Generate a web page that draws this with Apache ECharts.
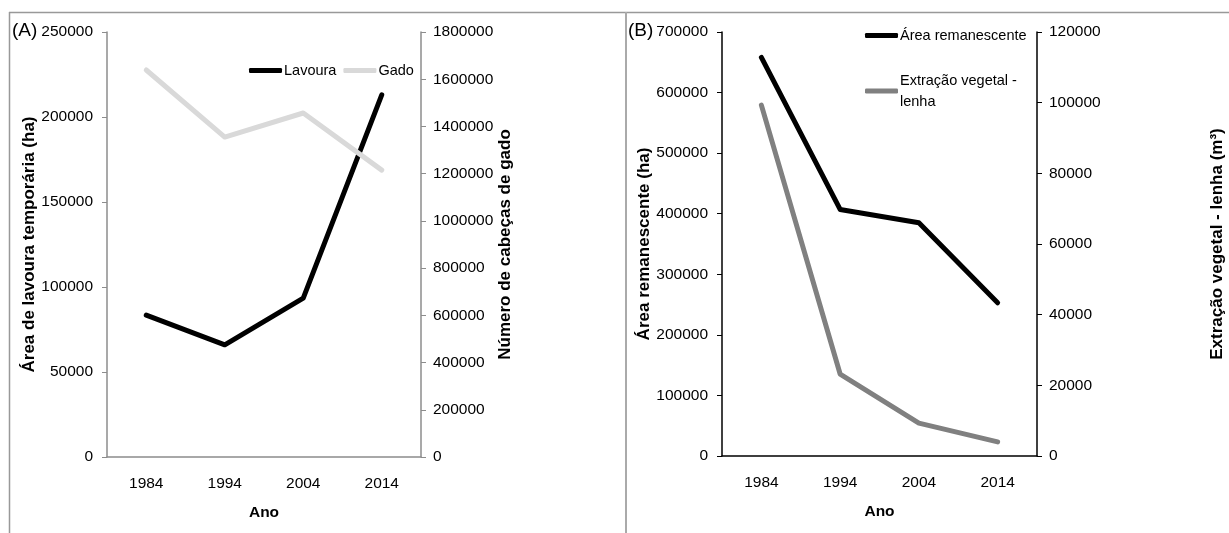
<!DOCTYPE html>
<html>
<head>
<meta charset="utf-8">
<script src="https://cdn.jsdelivr.net/npm/echarts@6/dist/echarts.min.js"></script>
<style>
  html, body { margin: 0; padding: 0; background: #fff; }
  #chart { width: 1229px; height: 533px; }
</style>
</head>
<body>
<div id="chart"></div>
<script>
const anos = ['1984', '1994', '2004', '2014'];
const lavoura = [83500, 66000, 93500, 213000];
const gado = [1639000, 1355000, 1457000, 1215000];
const areaRemanescente = [658000, 407000, 385000, 253000];
const extracaoLenha = [99300, 23200, 9300, 4000];

~function () {
  let myChart = echarts.init(document.getElementById('chart'));
  const font = 'Liberation Sans, Arial, sans-serif';
  const gray = '#8c8c8c';
  const txt = { color: '#000', fontFamily: font, fontSize: 15.5 };
  const legTxt = { color: '#000', fontFamily: font, fontSize: 14.5 };
  const nameTxt = { color: '#000', fontFamily: font, fontSize: 17, fontWeight: 'bold' };

  function xAx(gridIndex, lineColor) {
    return {
      type: 'category', gridIndex: gridIndex, data: anos,
      boundaryGap: true,
      name: 'Ano', nameLocation: 'middle', nameGap: 48,
      nameTextStyle: Object.assign({}, nameTxt, { fontSize: 15.5 }),
      axisLine: { lineStyle: { color: lineColor, width: 1.5 } },
      axisTick: { alignWithLabel: true, inside: true, length: 5, lineStyle: { color: lineColor } },
      axisLabel: Object.assign({ margin: 19 }, txt)
    };
  }
  function yAx(gridIndex, pos, max, interval, name, gap, lineColor) {
    return {
      type: 'value', gridIndex: gridIndex, position: pos,
      min: 0, max: max, interval: interval,
      name: name, nameLocation: 'middle', nameGap: gap, nameRotate: 90,
      nameTextStyle: nameTxt,
      axisLine: { show: true, lineStyle: { color: lineColor, width: 1.5 } },
      axisTick: { show: true, length: 5, lineStyle: { color: lineColor } },
      axisLabel: Object.assign({ margin: pos === 'left' ? 14 : 12, formatter: function (v) { return String(v); } }, txt),
      splitLine: { show: false }
    };
  }
  function lineSeries(name, data, color, x, y) {
    return {
      name: name, type: 'line', data: data, xAxisIndex: x, yAxisIndex: y,
      symbol: 'none', color: color,
      lineStyle: { color: color, width: 5, cap: 'round', join: 'round' }
    };
  }

  let option = {
    animation: false,
    grid: [
      { left: 107, right: 808, top: 32, bottom: 76 },
      { left: 722, right: 192, top: 32, bottom: 77 }
    ],
    xAxis: [xAx(0, gray), xAx(1, '#000')],
    yAxis: [
      yAx(0, 'left', 250000, 50000, 'Área de lavoura temporária (ha)', 66, gray),
      yAx(0, 'right', 1800000, 200000, 'Número de cabeças de gado', 75, gray),
      yAx(1, 'left', 700000, 100000, 'Área remanescente (ha)', 66, '#000'),
      yAx(1, 'right', 120000, 20000, 'Extração vegetal - lenha (m³)', 172, '#000')
    ],
    legend: [
      {
        data: ['Lavoura', 'Gado'], left: 244, top: 58, orient: 'horizontal',
        icon: 'roundRect', itemWidth: 33, itemHeight: 5, itemGap: 7,
        textStyle: Object.assign({ padding: [0, 0, 0, -3] }, legTxt)
      },
      {
        data: ['Área remanescente', 'Extração vegetal -\nlenha'], left: 860, top: 20, orient: 'vertical',
        icon: 'roundRect', itemWidth: 33, itemHeight: 5, itemGap: 24,
        textStyle: Object.assign({ padding: [0, 0, 0, -3], lineHeight: 21 }, legTxt)
      }
    ],
    series: [
      lineSeries('Lavoura', lavoura, '#000', 0, 0),
      lineSeries('Gado', gado, '#d9d9d9', 0, 1),
      lineSeries('Área remanescente', areaRemanescente, '#000', 1, 2),
      lineSeries('Extração vegetal -\nlenha', extracaoLenha, '#808080', 1, 3)
    ],
    graphic: [
      { type: 'line', shape: { x1: 9, y1: 12.5, x2: 1229, y2: 12.5 }, style: { stroke: '#999', lineWidth: 1.5 } },
      { type: 'line', shape: { x1: 9.5, y1: 12, x2: 9.5, y2: 533 }, style: { stroke: '#999', lineWidth: 1.5 } },
      { type: 'line', shape: { x1: 626, y1: 12, x2: 626, y2: 533 }, style: { stroke: '#aaa', lineWidth: 2 } },
      { type: 'text', left: 12, top: 21, style: { text: '(A)', fill: '#000', font: '19px ' + font } },
      { type: 'text', left: 628, top: 21, style: { text: '(B)', fill: '#000', font: '19px ' + font } }
    ]
  };
  myChart.setOption(option);
}();
</script>
</body>
</html>
